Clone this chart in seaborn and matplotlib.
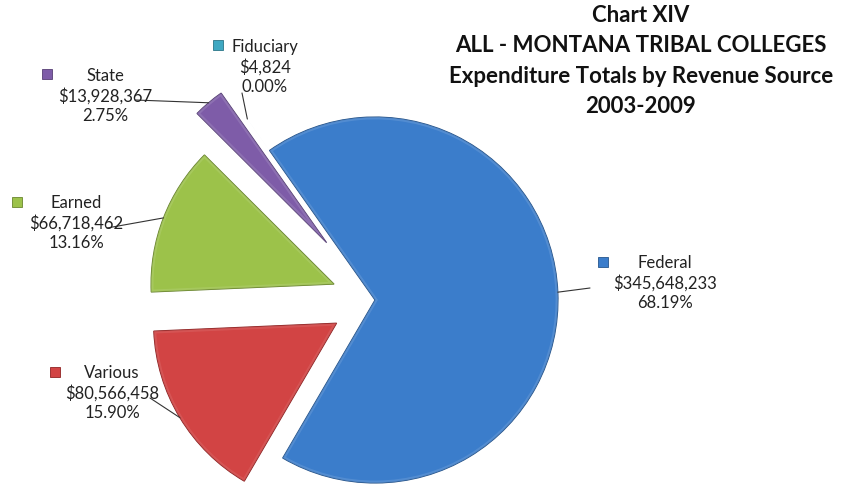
import numpy as np
import matplotlib
matplotlib.use("Agg")
import matplotlib.pyplot as plt
from matplotlib.patches import Wedge
import seaborn as sns

# chart data
sources = ["Federal", "Various", "Earned", "State", "Fiduciary"]
amounts = [345648233, 80566458, 66718462, 13928367, 4824]
percent_labels = ["68.19%", "15.90%", "13.16%", "2.75%", "0.00%"]
colors = ["#3b7dcb", "#d24444", "#9cc24a", "#7e5ca8", "#3fa8c2"]
explode = [0.0, 0.245, 0.24, 0.41, 0.21]
title_lines = ["Chart XIV", "ALL - MONTANA TRIBAL COLLEGES",
               "Expenditure Totals by Revenue Source", "2003-2009"]

W, H = 851, 486
CX, CY, R = 375, 300, 183  # pie centre / radius in pixels

sns.set_theme(style="white")
plt.rcParams["font.family"] = ["Lato", "DejaVu Sans"]

fig = plt.figure(figsize=(W / 100, H / 100), dpi=100)
ax = fig.add_axes([0, 0, 1, 1])

wedges, _ = ax.pie(amounts, colors=colors, explode=explode, startangle=125.2,
                   counterclock=False, radius=1.0,
                   wedgeprops=dict(linewidth=0.8))
for w, c in zip(wedges, colors):
    if w.theta2 - w.theta1 < 0.5:
        w.set_linewidth(0)  # the 0.00% slice is not visible
        continue
    w.set_edgecolor(sns.set_hls_values(c, l=0.33))
    # bevel-like highlight band along the inside of the slice edge
    band = Wedge(w.center, w.r, w.theta1, w.theta2, facecolor="none",
                 edgecolor=sns.set_hls_values(c, l=0.62), linewidth=3.5,
                 alpha=0.55, zorder=w.get_zorder() + 0.1)
    ax.add_patch(band)
    band.set_clip_path(w)

ax.set_xlim(-CX / R, (W - CX) / R)
ax.set_ylim((CY - H) / R, CY / R)
ax.set_aspect("auto")
ax.axis("off")


def px(x, y):
    # pixel (top-left origin) -> data coords
    return (x - CX) / R, (CY - y) / R


# label layout: text centre, marker position, leader end (pixels)
layout = {
    "Federal":   dict(text=(665, 283), key=(603, 262), lead=(590, 288)),
    "Various":   dict(text=(112, 393), key=(55, 372), lead=(150, 398)),
    "Earned":    dict(text=(76, 223), key=(17, 202), lead=(107, 228)),
    "State":     dict(text=(105, 96), key=(47, 74), lead=(135, 100)),
    "Fiduciary": dict(text=(265, 67), key=(218, 45), lead=(242, 93)),
}

for w, name, amt, pct, c in zip(wedges, sources, amounts, percent_labels, colors):
    lay = layout[name]
    tx, ty = px(*lay["text"])
    ax.text(tx, ty, f"{name}\n${amt:,.0f}\n{pct}", ha="center", va="center",
            fontsize=12, color="#222222", linespacing=1.25)
    kx, ky = px(*lay["key"])
    ax.plot(kx, ky, marker="s", markersize=7, color=c,
            markeredgecolor=sns.set_hls_values(c, l=0.35), markeredgewidth=0.6)
    # leader line from wedge edge at the mid angle
    mid = np.deg2rad((w.theta1 + w.theta2) / 2)
    ex = w.center[0] + w.r * np.cos(mid)
    ey = w.center[1] + w.r * np.sin(mid)
    lx, ly = px(*lay["lead"])
    ax.plot([ex, lx], [ey, ly], color="#333333", linewidth=0.8)

fig.text(641 / W, 1 - 61 / H, "\n".join(title_lines), ha="center", va="center",
         fontsize=16, fontweight="bold", color="#111111", linespacing=1.55)

fig.savefig("out.png", dpi=100, facecolor="white")
